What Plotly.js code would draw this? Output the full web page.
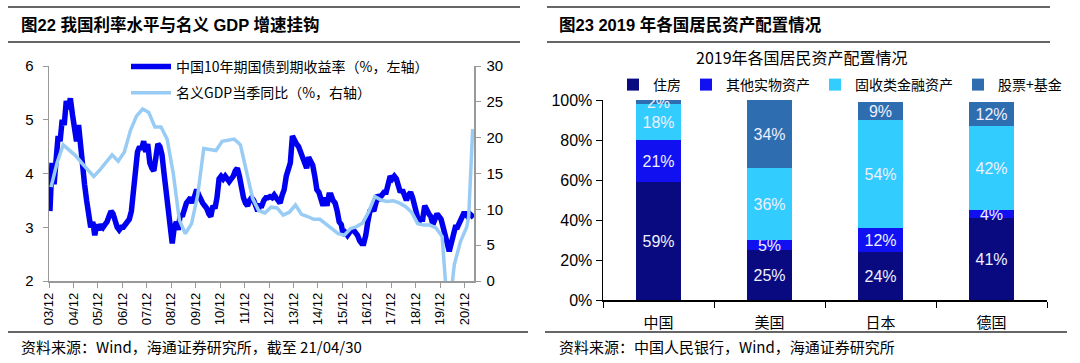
<!DOCTYPE html>
<html>
<head>
<meta charset="utf-8">
<script src="https://cdn.plot.ly/plotly-3.0.1.min.js"></script>
<style>html,body{margin:0;padding:0;background:#fff;}#chart{width:1080px;height:363px;}</style>
</head>
<body>
<div id="chart"></div>
<script>
// ---------- Left chart data ----------
const bondStart = [2003, 12];  // first month of the bond yield series
const bondYield = [
  3.3,
  4.2, 3.8, 4.3, 4.7, 4.6, 5.0, 4.9, 5.35, 5.2, 5.4, 5.1, 4.9,
  4.6, 4.9, 4.5, 4.2, 3.8, 3.5, 3.3, 3.0, 3.1, 2.85, 3.05, 2.95,
  3.05, 3.0, 3.05, 3.1, 3.2, 3.3, 3.25, 3.1, 3.0, 2.95, 3.0, 3.0,
  3.05, 3.1, 3.15, 3.3, 3.6, 4.1, 4.4, 4.5, 4.45, 4.6, 4.4, 4.55,
  4.2, 4.1, 4.05, 4.3, 4.55, 4.5, 4.35, 4.0, 3.7, 3.3, 3.0, 2.7,
  3.0, 3.1, 2.95, 3.25, 3.2, 3.35, 3.45, 3.5, 3.55, 3.45, 3.6, 3.7,
  3.6, 3.5, 3.45, 3.4, 3.35, 3.25, 3.2, 3.4, 3.35, 3.55, 3.9, 3.95,
  3.9, 3.95, 3.9, 3.85, 3.9, 3.95, 4.05, 4.1, 3.95, 3.7, 3.55, 3.45,
  3.4, 3.5, 3.55, 3.5, 3.35, 3.3, 3.4, 3.4, 3.5, 3.55, 3.55, 3.57,
  3.55, 3.6, 3.55, 3.5, 3.45, 3.6, 3.7, 3.95, 4.05, 4.2, 4.7, 4.6,
  4.55, 4.5, 4.4, 4.3, 4.2, 4.1, 4.3, 4.2, 4.15, 3.95, 3.7, 3.65,
  3.5, 3.4, 3.55, 3.4, 3.6, 3.6, 3.5, 3.45, 3.3, 3.1, 3.05, 2.85,
  2.9, 2.85, 2.9, 2.95, 2.95, 2.9, 2.85, 2.75, 2.7, 2.7, 2.85, 3.1,
  3.3, 3.35, 3.3, 3.45, 3.6, 3.55, 3.6, 3.65, 3.65, 3.8, 3.95, 3.9,
  3.95, 3.9, 3.8, 3.65, 3.7, 3.55, 3.5, 3.6, 3.65, 3.55, 3.4, 3.25,
  3.1, 3.15, 3.15, 3.4, 3.3, 3.25, 3.2, 3.05, 3.15, 3.25, 3.2, 3.15,
  3.0, 2.85, 2.65, 2.55, 2.7, 2.85, 3.0, 3.0, 3.1, 3.15, 3.25, 3.25,
  3.2, 3.25, 3.22, 3.18
];
const gdpDates = [
  '2003-12-31',
  '2004-03-31','2004-06-30','2004-09-30','2004-12-31',
  '2005-03-31','2005-06-30','2005-09-30','2005-12-31',
  '2006-03-31','2006-06-30','2006-09-30','2006-12-31',
  '2007-03-31','2007-06-30','2007-09-30','2007-12-31',
  '2008-03-31','2008-06-30','2008-09-30','2008-12-31',
  '2009-03-31','2009-06-30','2009-09-30','2009-12-31',
  '2010-03-31','2010-06-30','2010-09-30','2010-12-31',
  '2011-03-31','2011-06-30','2011-09-30','2011-12-31',
  '2012-03-31','2012-06-30','2012-09-30','2012-12-31',
  '2013-03-31','2013-06-30','2013-09-30','2013-12-31',
  '2014-03-31','2014-06-30','2014-09-30','2014-12-31',
  '2015-03-31','2015-06-30','2015-09-30','2015-12-31',
  '2016-03-31','2016-06-30','2016-09-30','2016-12-31',
  '2017-03-31','2017-06-30','2017-09-30','2017-12-31',
  '2018-03-31','2018-06-30','2018-09-30','2018-12-31',
  '2019-03-31','2019-06-30','2019-09-30','2019-12-31',
  '2020-03-31','2020-06-30','2020-09-30','2020-12-31',
  '2021-01-31','2021-03-31'
];
const gdpYoY = [
  13.1,
  16.5, 19.0, 18.3, 17.5,
  16.5, 15.5, 14.6, 15.5,
  16.5, 17.6, 16.7, 18.0,
  21.0, 23.0, 24.0, 23.5,
  21.5, 21.5, 19.8, 15.0,
  8.5, 6.6, 8.0, 12.0,
  18.5, 18.3, 18.2, 19.5,
  19.7, 19.8, 19.0, 15.0,
  11.5, 9.8, 9.5, 10.3,
  10.2, 9.2, 9.6, 10.6,
  9.3, 9.0, 8.6, 8.6,
  7.9, 7.2, 6.6, 6.4,
  7.3, 7.6, 8.1, 9.7,
  11.8, 11.3, 11.1, 11.2,
  10.9, 10.4, 9.6, 8.0,
  7.8, 7.8, 7.4, 6.2,
  -5.3, 2.3, 5.5, 7.5,
  9.0, 21.2
];
const bondName = '中国10年期国债到期收益率（%，左轴）';
const gdpName = '名义GDP当季同比（%，右轴）';

// ---------- Right chart data ----------
const countries = ['中国', '美国', '日本', '德国'];
const housing = [59, 25, 24, 41];
const otherReal = [21, 5, 12, 4];
const fixedIncome = [18, 36, 54, 42];
const equityFund = [2, 34, 9, 12];
const assetNames = ['住房', '其他实物资产', '固收类金融资产', '股票+基金'];

// ---------- Build ----------
const bondDates = bondYield.map((v, i) => {
  const m = bondStart[1] - 1 + i;
  const y = bondStart[0] + Math.floor(m / 12);
  const mm = (m % 12) + 1;
  return y + '-' + String(mm).padStart(2, '0') + '-15';
});

const W = 1080, H = 363;
const px = v => v / W;
const py = v => 1 - v / H;

const cjk = 'Noto Sans CJK SC, Liberation Sans, sans-serif';
const lat = 'Liberation Sans, Arial, Noto Sans CJK SC, sans-serif';

const traces = [
  {x: bondDates, y: bondYield, name: bondName, type: 'scatter', mode: 'lines',
   xaxis: 'x', yaxis: 'y', line: {color: '#0000F0', width: 5.5}, legend: 'legend', legendgroup: 'a'},
  {x: gdpDates, y: gdpYoY, name: gdpName, type: 'scatter', mode: 'lines',
   xaxis: 'x', yaxis: 'y2', line: {color: '#99CCF5', width: 3.5}, legend: 'legend', legendgroup: 'b'}
];
const barSeries = [housing, otherReal, fixedIncome, equityFund];
const barColors = ['#0A0A80', '#1010F0', '#33CCFF', '#2E6DB0'];
barSeries.forEach((vals, i) => {
  traces.push({
    x: countries, y: vals, name: assetNames[i], type: 'bar',
    xaxis: 'x2', yaxis: 'y3', marker: {color: barColors[i]},
    text: vals.map(v => v + '%'), textposition: 'inside', insidetextanchor: 'middle',
    constraintext: 'none', textangle: 0,
    textfont: {color: '#F0F0FF', size: 16, family: lat},
    hoverinfo: 'skip', legend: 'legend2'
  });
});

const lineShape = (x0, x1, y) => ({type: 'line', xref: 'paper', yref: 'paper',
  x0: px(x0), x1: px(x1), y0: py(y), y1: py(y), line: {color: '#333', width: 1.5}});

const layout = {
  width: W, height: H,
  margin: {l: 0, r: 0, t: 0, b: 0},
  paper_bgcolor: '#fff', plot_bgcolor: 'rgba(0,0,0,0)',
  font: {family: lat, size: 13, color: '#000'},
  showlegend: true,
  barmode: 'stack', bargap: 0.6,
  xaxis: {domain: [px(49), px(474)], anchor: 'y', type: 'date',
    range: ['2003-12-01', '2021-04-20'], tick0: '2003-12-01', dtick: 'M12', tickformat: '%y/%m',
    tickangle: -90, ticks: 'outside', ticklen: 5, tickcolor: '#999', showline: true,
    linecolor: '#999', linewidth: 1.5, showgrid: false, zeroline: false,
    tickfont: {size: 13, family: lat}},
  yaxis: {domain: [py(281), py(66)], anchor: 'x', range: [2, 6], dtick: 1,
    ticks: 'outside', ticklen: 5, tickcolor: '#999', showline: true, linecolor: '#999', linewidth: 1.5,
    showgrid: false, zeroline: false, tickfont: {size: 15}, ticklabelstandoff: 6},
  yaxis2: {overlaying: 'y', side: 'right', anchor: 'x', range: [0, 30], dtick: 5,
    ticks: 'outside', ticklen: 5, tickcolor: '#999', showline: true, linecolor: '#999', linewidth: 1.5,
    showgrid: false, zeroline: false, tickfont: {size: 15}, ticklabelstandoff: 3},
  xaxis2: {domain: [px(603), px(1047)], anchor: 'y3', type: 'category', tickson: 'boundaries',
    ticks: 'outside', ticklen: 6, tickcolor: '#000', showline: true, linecolor: '#000', linewidth: 1.5,
    showgrid: false, tickfont: {size: 15, family: cjk}, ticklabelstandoff: 8},
  yaxis3: {domain: [py(300), py(100)], anchor: 'x2', range: [0, 100], dtick: 20, ticksuffix: '%',
    ticks: 'outside', ticklen: 6, tickcolor: '#000', showline: true, linecolor: '#000', linewidth: 1.5,
    showgrid: false, zeroline: false, tickfont: {size: 16}},
  legend: {x: px(126), y: py(51), xanchor: 'left', yanchor: 'top', orientation: 'v',
    bgcolor: 'rgba(0,0,0,0)', font: {size: 14, family: cjk}, tracegroupgap: 5, traceorder: 'grouped',
    itemwidth: 40},
  legend2: {x: px(840), y: py(69), xanchor: 'center', yanchor: 'top', orientation: 'h',
    bgcolor: 'rgba(0,0,0,0)', font: {size: 14, family: cjk}, traceorder: 'normal', itemwidth: 30},
  shapes: [
    lineShape(8, 520, 7), lineShape(8, 520, 42), lineShape(8, 528, 332),
    lineShape(547, 1050, 7), lineShape(547, 1050, 42), lineShape(545, 1067, 332)
  ],
  annotations: [
    {text: '<b>图22 我国利率水平与名义 GDP 增速挂钩</b>', xref: 'paper', yref: 'paper',
     x: px(19), y: py(24), xanchor: 'left', yanchor: 'middle', showarrow: false,
     font: {size: 16.5, family: lat, color: '#000'}},
    {text: '<b>图23 2019 年各国居民资产配置情况</b>', xref: 'paper', yref: 'paper',
     x: px(557), y: py(24), xanchor: 'left', yanchor: 'middle', showarrow: false,
     font: {size: 16.5, family: lat, color: '#000'}},
    {text: '2019年各国居民资产配置情况', xref: 'paper', yref: 'paper',
     x: px(802), y: py(57), xanchor: 'center', yanchor: 'middle', showarrow: false,
     font: {size: 16, family: cjk, color: '#000'}},
    {text: '资料来源：Wind，海通证券研究所，截至 21/04/30', xref: 'paper', yref: 'paper',
     x: px(19), y: py(346), xanchor: 'left', yanchor: 'middle', showarrow: false,
     font: {size: 15, family: cjk, color: '#000'}},
    {text: '资料来源：中国人民银行，Wind，海通证券研究所', xref: 'paper', yref: 'paper',
     x: px(557), y: py(346), xanchor: 'left', yanchor: 'middle', showarrow: false,
     font: {size: 15, family: cjk, color: '#000'}}
  ]
};

Plotly.newPlot('chart', traces, layout, {displayModeBar: false, staticPlot: true});
</script>
</body>
</html>
